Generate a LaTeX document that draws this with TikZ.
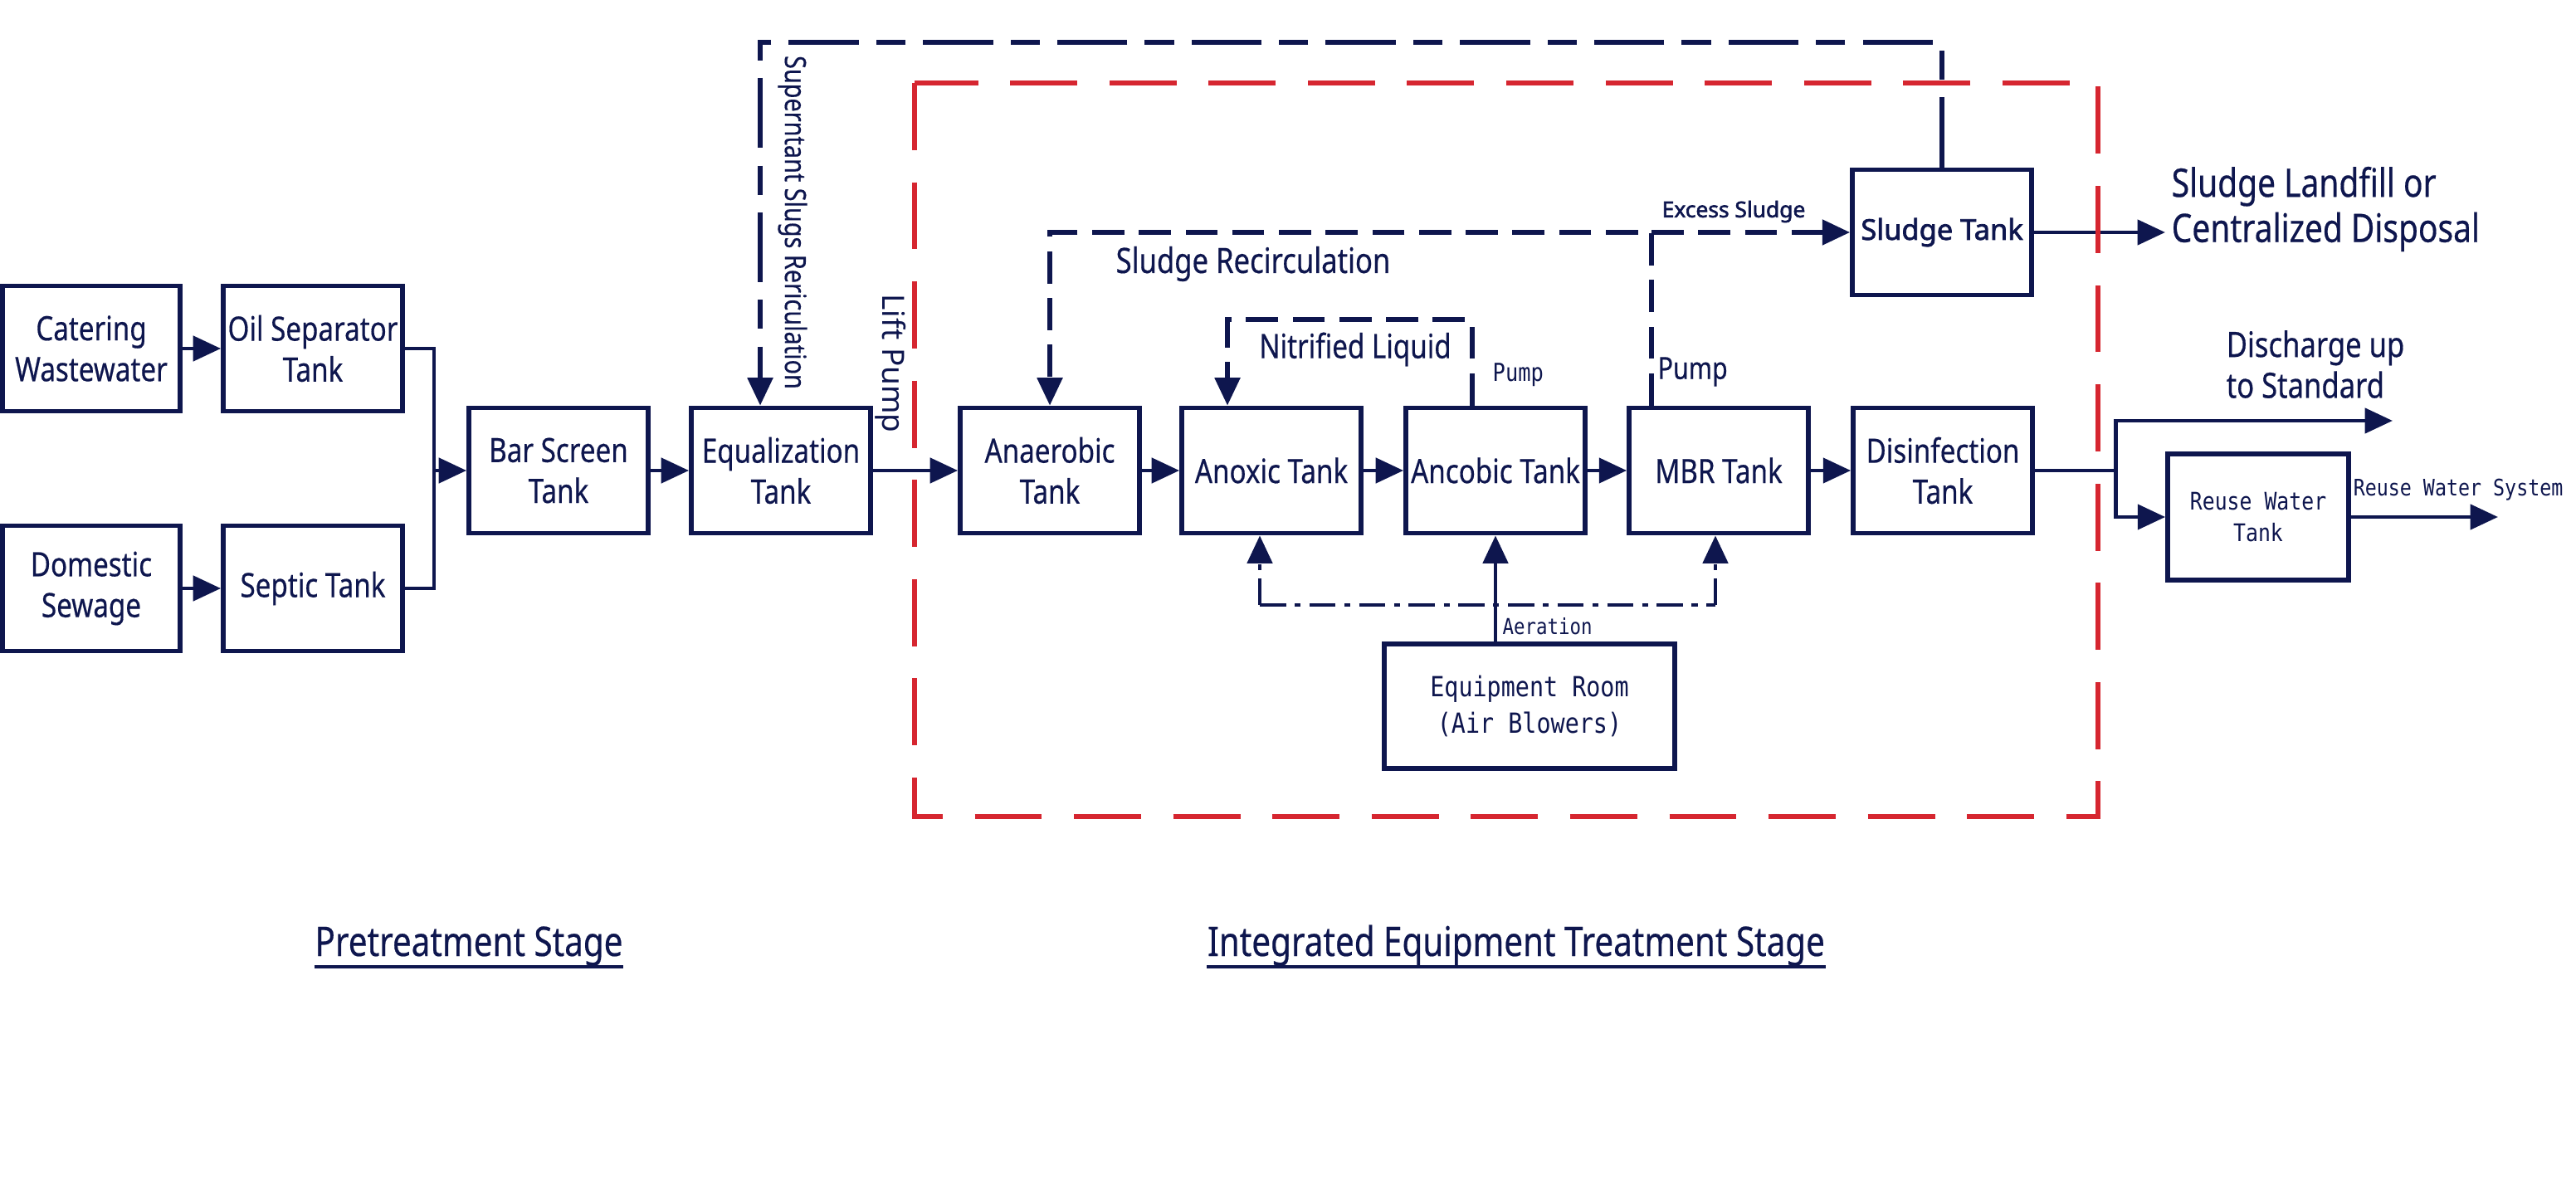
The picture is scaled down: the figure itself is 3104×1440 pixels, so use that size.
\documentclass[tikz,border=0pt]{standalone}
\usepackage{fontspec}
\setmainfont{Noto Sans}[FakeStretch=0.82,FakeBold=0.4]
\newfontfamily\widefont{Noto Sans}
\newfontfamily\widebold{Noto Sans}[FakeBold=2.2]
\newfontfamily\monofont{DejaVu Sans Mono}[FakeStretch=0.85]
\usetikzlibrary{arrows.meta,positioning,calc}
\definecolor{navy}{RGB}{14,22,78}
\definecolor{boxred}{RGB}{214,38,48}
\tikzset{
  >={Triangle[length=9.5pt,width=8.5pt]},
  tank/.style={draw=navy,line width=1.6pt,text=navy,minimum width=2.16cm,minimum height=1.51cm,
    align=center,inner sep=1pt,font=\fontsize{11.5}{14}\selectfont},
  pipe/.style={draw=navy,line width=1.4pt},
  flow/.style={pipe,->},
  dashline/.style={pipe,line width=1.6pt,dash pattern=on 11pt off 5pt},
  supline/.style={pipe,line width=1.6pt,dash pattern=on 24pt off 6pt on 10pt off 6pt},
  aerline/.style={pipe,dash pattern=on 9pt off 3pt on 2pt off 3pt},
  lbl/.style={text=navy,inner sep=0pt}
}

\begin{document}
\begin{tikzpicture}[x=0.01cm,y=-0.01cm]
\useasboundingbox (0,0) rectangle (3104,1440);

% pretreatment
\node[tank,minimum width=2.14cm] (cater) at (110,420) {Catering\\Wastewater};
\node[tank] (oilsep) at (377,420) {Oil Separator\\Tank};
\node[tank,minimum width=2.14cm] (domestic) at (110,709) {Domestic\\Sewage};
\node[tank] (septic) at (377,709) {Septic Tank};
\node[tank] (bar) at (673,567) {Bar Screen\\Tank};
\node[tank] (equal) at (941,567) {Equalization\\Tank};

% integrated equipment
\node[tank] (anaer) at (1265,567) {Anaerobic\\Tank};
\node[tank] (anoxic) at (1532,567) {Anoxic Tank};
\node[tank] (aerobic) at (1802,567) {Ancobic Tank};
\node[tank] (mbr) at (2071,567) {MBR Tank};
\node[tank] (disinf) at (2341,567) {Disinfection\\Tank};
\node[tank,font=\fontsize{9.8}{12}\widebold] (sludge) at (2340,280) {Sludge Tank};
\node[tank,minimum width=2.18cm,minimum height=1.52cm,font=\fontsize{8.3}{11}\monofont] (reuse) at (2721,623) {Reuse Water\\Tank};
\node[tank,minimum width=3.5cm,minimum height=1.5cm,font=\fontsize{9.5}{12.5}\monofont] (equip) at (1843,851) {Equipment Room\\(Air Blowers)};

\coordinate (merge) at (523,567);
\coordinate (split) at (2549,567);
\coordinate (dischg) at (2883,507);
\coordinate (reuseout) at (3010,623);
\coordinate (landfill) at (2609,280);
\coordinate (supcorner) at (916,51);
\coordinate (recirc) at (1990,280);
\coordinate (nitrR) at (1774,385);
\coordinate (nitrL) at (1479,385);
\coordinate (aerL) at (1518,729);
\coordinate (aerR) at (2067,729);

% main line
\draw[flow] (cater) -- (oilsep);
\draw[flow] (domestic) -- (septic);
\draw[pipe] (oilsep.east) -| (merge) |- (septic.east);
\draw[flow] (merge) -- (bar);
\draw[flow] (bar) -- (equal);
\draw[flow] (equal) -- (anaer);
\draw[flow] (anaer) -- (anoxic);
\draw[flow] (anoxic) -- (aerobic);
\draw[flow] (aerobic) -- (mbr);
\draw[flow] (mbr) -- (disinf);
\draw[pipe] (disinf) -- (split);
\draw[flow] (split) |- (dischg);
\draw[flow] (split) |- (reuse.west);
\draw[flow] (reuse) -- (reuseout);
\draw[flow] (sludge) -- (landfill);

% returns
\draw[supline,->] (sludge.north) |- (supcorner) -- (supcorner |- equal.north);
\draw[dashline,->] (recirc |- mbr.north) -- (recirc) -| (anaer.north);
\draw[dashline,->] (recirc) -- (sludge);
\draw[dashline,->] (nitrR |- aerobic.north) -- (nitrR) -- (nitrL) -- (nitrL |- anoxic.north);

% aeration
\draw[aerline,->] (aerL) -- (aerL |- anoxic.south);
\draw[aerline] (aerL) -- (aerR);
\draw[aerline,->] (aerR) -- (aerR |- mbr.south);
\draw[flow] (aerobic.south |- equip.north) -- (aerobic.south);

% labels
\node[lbl,rotate=-90,font=\fontsize{10}{12}\selectfont] (suplbl) at (955,268) {Superntant Slugs Rericulation};
\node[lbl,rotate=-90,font=\fontsize{10.5}{12}\widefont] (liftlbl) at (1073,438) {Lift Pump};
\node[lbl,font=\fontsize{12}{14}\selectfont] (recirclbl) at (1510,318) {Sludge Recirculation};
\node[lbl,font=\fontsize{7.5}{9}\widebold] (excesslbl) at (2089,255) {Excess Sludge};
\node[lbl,anchor=west,font=\fontsize{10.5}{12}\selectfont] (pumplbl) at (1997,448) {Pump};
\node[lbl,font=\fontsize{11.5}{14}\selectfont] (nitrlbl) at (1633,421) {Nitrified Liquid};
\node[lbl,anchor=west,font=\fontsize{8.5}{10}\monofont] (npumplbl) at (1798,452) {Pump};
\node[lbl,anchor=west,font=\fontsize{7.5}{9}\monofont] (aerlbl) at (1810,755) {Aeration};
\node[lbl,anchor=west,align=left,font=\fontsize{13.5}{15.5}\selectfont] (landlbl) at (2616,252) {Sludge Landfill or\\Centralized Disposal};
\node[lbl,anchor=west,align=left,font=\fontsize{12}{14}\selectfont] (dischlbl) at (2682,439) {Discharge up\\to Standard};
\node[lbl,anchor=west,font=\fontsize{7.8}{9}\monofont] (reuselbl) at (2835,590) {Reuse Water System};

% stages
\node[lbl,anchor=base,font=\fontsize{14}{16}\selectfont] (prestage) at (565,1152) {Pretreatment Stage};
\node[lbl,anchor=base,font=\fontsize{14}{16}\selectfont] (intstage) at (1827,1152) {Integrated Equipment Treatment Stage};
\draw[navy,line width=1.2pt] ([yshift=-3.8pt]prestage.base west) -- ([yshift=-3.8pt]prestage.base east);
\draw[navy,line width=1.2pt] ([yshift=-3.8pt]intstage.base west) -- ([yshift=-3.8pt]intstage.base east);

\draw[boxred,line width=1.6pt,dash pattern=on 23pt off 11pt] (1102,100) rectangle (2528,984);

\end{tikzpicture}
\end{document}
